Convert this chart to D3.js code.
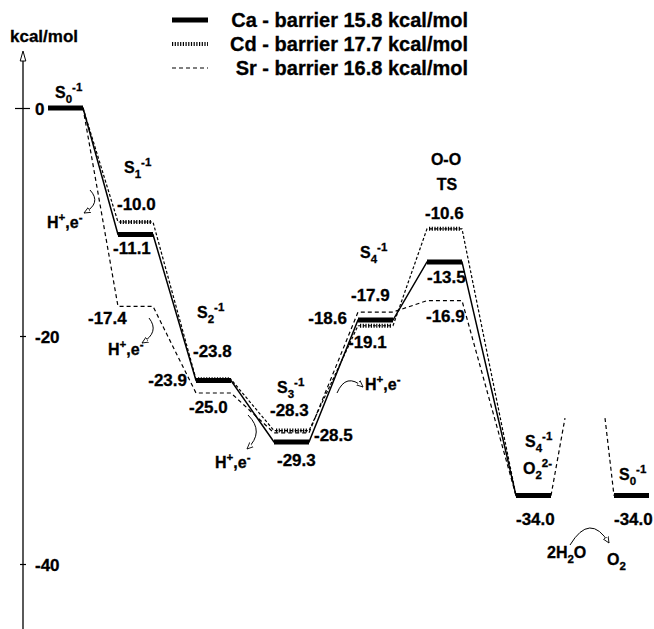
<!DOCTYPE html>
<html><head><meta charset="utf-8">
<script src="https://cdn.jsdelivr.net/npm/d3@7"></script>
<style>
html,body{margin:0;padding:0;background:#fff;}
text{font-family:"Liberation Sans",Arial,Helvetica,sans-serif;font-weight:bold;fill:#000;stroke:#000;stroke-width:0.3px;}
</style></head><body>
<svg id="c" width="654" height="629"></svg>
<script>
// ---------- data ----------
const states = ["S0", "S1", "S2", "S3", "S4", "TS", "S4O2", "S0b"];
const caEnergy = [0, -11.1, -23.9, -29.3, -18.6, -13.5, -34.0, -34.0];
const cdEnergy = [0, -10.0, -23.8, -28.3, -19.1, -10.6, -34.0];
const srEnergy = [0, -17.4, -25.0, -28.5, -17.9, -16.9, -34.0];
const seriesNames = ["Ca", "Cd", "Sr"];
const barriers = [15.8, 17.7, 16.8];
const yTicks = [0, -20, -40];
const breakLevel = -27.2;

// ---------- layout ----------
const svg = d3.select("#c");
const y = d3.scaleLinear().domain([0, -40]).range([108, 564]);
const xLeft = d3.scaleOrdinal().domain(states).range([48, 118, 196, 274, 358, 427, 516, 614]);
const barW = 35;
const xRight = s => xLeft(s) + barW;

const defs = svg.append("defs");
defs.append("marker").attr("id", "arr").attr("viewBox", "0 0 10 10")
  .attr("refX", 9).attr("refY", 5).attr("markerWidth", 7).attr("markerHeight", 7)
  .attr("markerUnits", "userSpaceOnUse").attr("orient", "auto")
  .append("path").attr("d", "M0,1 L9,5 L0,9 Z").attr("fill", "#fff").attr("stroke", "#000").attr("stroke-width", 1.2);

function rich(g, x, yy, segs, size, anchor) {
  const t = g.append("text").attr("x", x).attr("y", yy)
    .attr("text-anchor", anchor || "start").style("font-size", size + "px");
  let cur = 0;
  segs.forEach(([s, sh]) => {
    const target = sh === 1 ? -0.42 * size : sh === -1 ? 0.3 * size : 0;
    t.append("tspan").attr("dy", target - cur)
      .style("font-size", (sh ? 0.72 * size : size) + "px").text(s);
    cur = target;
  });
  return t;
}

// ---------- axis ----------
const axisTop = y(5), axisBot = 629;
svg.append("line").attr("x1", 23).attr("x2", 23).attr("y1", axisTop + 8).attr("y2", axisBot)
  .attr("stroke", "#000").attr("stroke-width", 1.3);
svg.append("path").attr("d", `M23,${axisTop} L20.2,${axisTop + 10} L25.8,${axisTop + 10} Z`)
  .attr("fill", "#fff").attr("stroke", "#000").attr("stroke-width", 1);
const ax = svg.append("g").attr("transform", "translate(23,0)")
  .call(d3.axisRight(y).tickValues(yTicks).tickSizeInner(3).tickSizeOuter(0).tickPadding(9)
    .tickFormat(d => String(d)));
ax.select(".domain").remove();
ax.selectAll(".tick line").attr("x1", d => d === 0 ? -8 : -3).attr("x2", d => d === 0 ? 7 : 3)
  .attr("stroke-width", 1.2);
ax.selectAll(".tick text").style("font-size", "17px").style("font-family", null)
  .attr("fill", "#000").attr("dy", "0.4em");
svg.append("text").attr("x", 10).attr("y", 42).style("font-size", "17px").text("kcal/mol");

// ---------- legend ----------
const legStyles = [
  {w: 5, dash: null},
  {w: 4, dash: "1.2,1.5"},
  {w: 1.2, dash: "4,3"}
];
seriesNames.forEach((n, i) => {
  const by = 27 + i * 24;
  svg.append("line").attr("x1", 172).attr("x2", 208).attr("y1", by - 7).attr("y2", by - 7)
    .attr("stroke", "#000").attr("stroke-width", legStyles[i].w)
    .attr("stroke-dasharray", legStyles[i].dash);
  svg.append("text").attr("x", 468).attr("y", by).attr("text-anchor", "end")
    .style("font-size", "20px").text(`${n} - barrier ${barriers[i].toFixed(1)} kcal/mol`);
});

// ---------- profiles ----------
const line = d3.line();
const pts = arr => arr.flatMap((v, i) => [[xLeft(states[i]), y(v)], [xRight(states[i]), y(v)]]);

// Sr: dashed
svg.append("path").attr("d", line(pts(srEnergy))).attr("fill", "none")
  .attr("stroke", "#000").attr("stroke-width", 1.2).attr("stroke-dasharray", "4,3");
// break lines after S4 O2
const yb = y(breakLevel);
svg.append("path").attr("d", line([[xRight("S4O2"), y(caEnergy[6])], [xRight("S4O2") + 14, yb]]))
  .attr("fill", "none").attr("stroke", "#000").attr("stroke-width", 1.2).attr("stroke-dasharray", "4,3");
svg.append("path").attr("d", line([[xLeft("S0b") - 9, yb], [xLeft("S0b"), y(caEnergy[7])]]))
  .attr("fill", "none").attr("stroke", "#000").attr("stroke-width", 1.2).attr("stroke-dasharray", "4,3");

// Cd: dashed connectors + hatched levels
svg.append("path").attr("d", line(pts(cdEnergy))).attr("fill", "none")
  .attr("stroke", "#000").attr("stroke-width", 1.2).attr("stroke-dasharray", "3,2");
svg.append("g").selectAll("line").data(cdEnergy.slice(1, 6)).join("line")
  .attr("x1", (d, i) => xLeft(states[i + 1]) + 2).attr("x2", (d, i) => xRight(states[i + 1]) - 2)
  .attr("y1", d => y(d)).attr("y2", d => y(d))
  .attr("stroke", "#000").attr("stroke-width", 4).attr("stroke-dasharray", "1.2,1.5");

// Ca: solid connectors + thick levels
svg.append("path").attr("d", line(pts(caEnergy.slice(0, 7)))).attr("fill", "none")
  .attr("stroke", "#000").attr("stroke-width", 1.5);
svg.append("g").selectAll("line").data(caEnergy).join("line")
  .attr("x1", (d, i) => xLeft(states[i])).attr("x2", (d, i) => xRight(states[i]))
  .attr("y1", d => y(d)).attr("y2", d => y(d))
  .attr("stroke", "#000").attr("stroke-width", 5);

// ---------- value labels ----------
const caLab = [null, {dx: -5, dy: 19}, {dx: -9, dy: 6, a: "end"}, {dx: 3, dy: 24}, {dx: -11, dy: 4, a: "end"}, {dx: 0, dy: 21}, {dx: 0, dy: 29}, {dx: 0, dy: 29}];
const cdLab = [null, {dx: -1, dy: -12}, {dx: -3, dy: -22}, {dx: -4, dy: -15}, {dx: -10, dy: 22}, {dx: -2, dy: -10}, null];
const srLab = [null, {dx: -30, dy: 18}, {dx: -7, dy: 20}, {r: true, dx: 5, dy: 8}, {dx: -7, dy: -11}, {dx: -1, dy: 21}, null];
[[caEnergy, caLab], [cdEnergy, cdLab], [srEnergy, srLab]].forEach(([vals, lab]) => {
  vals.forEach((v, i) => {
    const p = lab[i];
    if (!p) return;
    const bx = p.r ? xRight(states[i]) : xLeft(states[i]);
    svg.append("text").attr("x", bx + p.dx).attr("y", y(v) + p.dy)
      .attr("text-anchor", p.a || "start").style("font-size", "17px").text(v.toFixed(1));
  });
});

// ---------- state labels ----------
const g = svg.append("g");
rich(g, 55, 98, [["S", 0], ["0", -1], ["-1", 1]], 16);
rich(g, 124, 173, [["S", 0], ["1", -1], ["-1", 1]], 16);
rich(g, 197, 318, [["S", 0], ["2", -1], ["-1", 1]], 16);
rich(g, 277, 393, [["S", 0], ["3", -1], ["-1", 1]], 16);
rich(g, 360, 258, [["S", 0], ["4", -1], ["-1", 1]], 16);
rich(g, 446, 165, [["O-O", 0]], 16, "middle");
rich(g, 447, 190, [["TS", 0]], 16, "middle");
rich(g, 525, 447, [["S", 0], ["4", -1], ["-1", 1]], 16);
rich(g, 523, 474, [["O", 0], ["2", -1], ["2-", 1]], 16);
rich(g, 619, 480, [["S", 0], ["0", -1], ["-1", 1]], 16);
rich(g, 547, 558, [["2H", 0], ["2", -1], ["O", 0]], 16);
rich(g, 607, 565, [["O", 0], ["2", -1]], 16);

// H+, e- annotations
const hTexts = [[47, 228], [108, 355], [215, 468], [365, 390]];
hTexts.forEach(([x, yy]) => rich(g, x, yy, [["H", 0], ["+", 1], [",e", 0], ["-", 1]], 16));
const arrows = [
  "M90,190 Q102,203 84,213",
  "M149,318 Q160,332 142,343",
  "M248,415 Q265,432 247,449",
  "M337,393 Q346,372 363,387",
  "M570,545 Q590,512 609,543"
];
arrows.forEach(d => g.append("path").attr("d", d).attr("fill", "none")
  .attr("stroke", "#000").attr("stroke-width", 1).attr("marker-end", "url(#arr)"));
</script>
</body></html>
